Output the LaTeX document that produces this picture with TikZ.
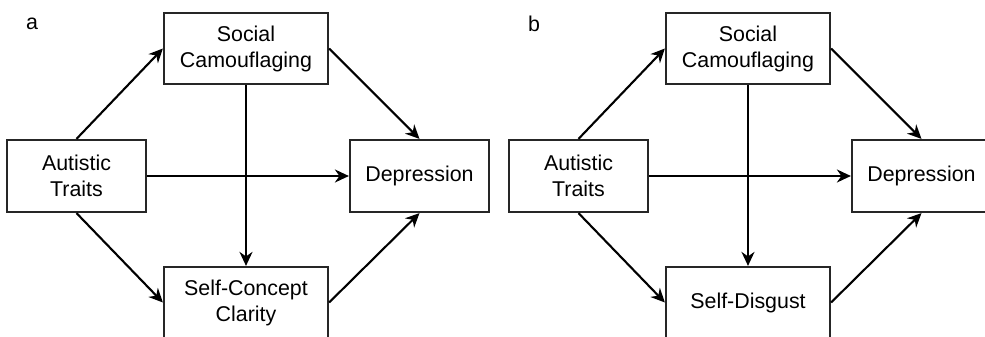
\documentclass[tikz,border=0pt]{standalone}
\usepackage{fontspec}
\setmainfont{Liberation Sans}
\usepackage{tikz}
\usetikzlibrary{arrows.meta, positioning}

\begin{document}
\begin{tikzpicture}[
  x=1pt, y=-1pt,
  var/.style={rectangle, draw=black!85, line width=2.2pt, fill=white,
              minimum width=164pt, minimum height=71pt, inner sep=2pt,
              font=\fontsize{21.4}{26}\selectfont, align=center},
  side/.style={var, minimum width=139pt, minimum height=72pt},
  arrow/.style={-{Stealth[length=14pt, width=13pt, inset=4.5pt]}, line width=2.1pt, black},
  panel/.style={font=\fontsize{21.4}{26}\selectfont},
]
  \useasboundingbox (0,0) rectangle (985,337);
  \clip (0,0) rectangle (985,337);

  % panel a
  \node[panel] (la) at (32,24) {a};
  \node[side] (at1) at (76.5,176) {Autistic\\Traits};
  \node[var] (sc1) at (246,48.5) {Social\\Camouflaging};
  \node[side] (dep1) at (419.5,176) {Depression};
  \node[var] (med1) at (246,302.5) {Self-Concept\\Clarity};

  \draw[arrow] (at1.north) -- (sc1.west);
  \draw[arrow] (sc1.east) -- (dep1.north);
  \draw[arrow] (at1.east) -- (dep1.west);
  \draw[arrow] (sc1.south) -- (med1.north);
  \draw[arrow] (at1.south) -- (med1.west);
  \draw[arrow] (med1.east) -- (dep1.south);

  % panel b
  \begin{scope}[xshift=502pt]
    \node[panel] (lb) at (32,24) {b};
    \node[side] (at2) at (76.5,176) {Autistic\\Traits};
    \node[var] (sc2) at (246,48.5) {Social\\Camouflaging};
    \node[side] (dep2) at (419.5,176) {Depression};
    \node[var] (med2) at (246,302.5) {Self-Disgust};

    \draw[arrow] (at2.north) -- (sc2.west);
    \draw[arrow] (sc2.east) -- (dep2.north);
    \draw[arrow] (at2.east) -- (dep2.west);
    \draw[arrow] (sc2.south) -- (med2.north);
    \draw[arrow] (at2.south) -- (med2.west);
    \draw[arrow] (med2.east) -- (dep2.south);
  \end{scope}
\end{tikzpicture}
\end{document}
